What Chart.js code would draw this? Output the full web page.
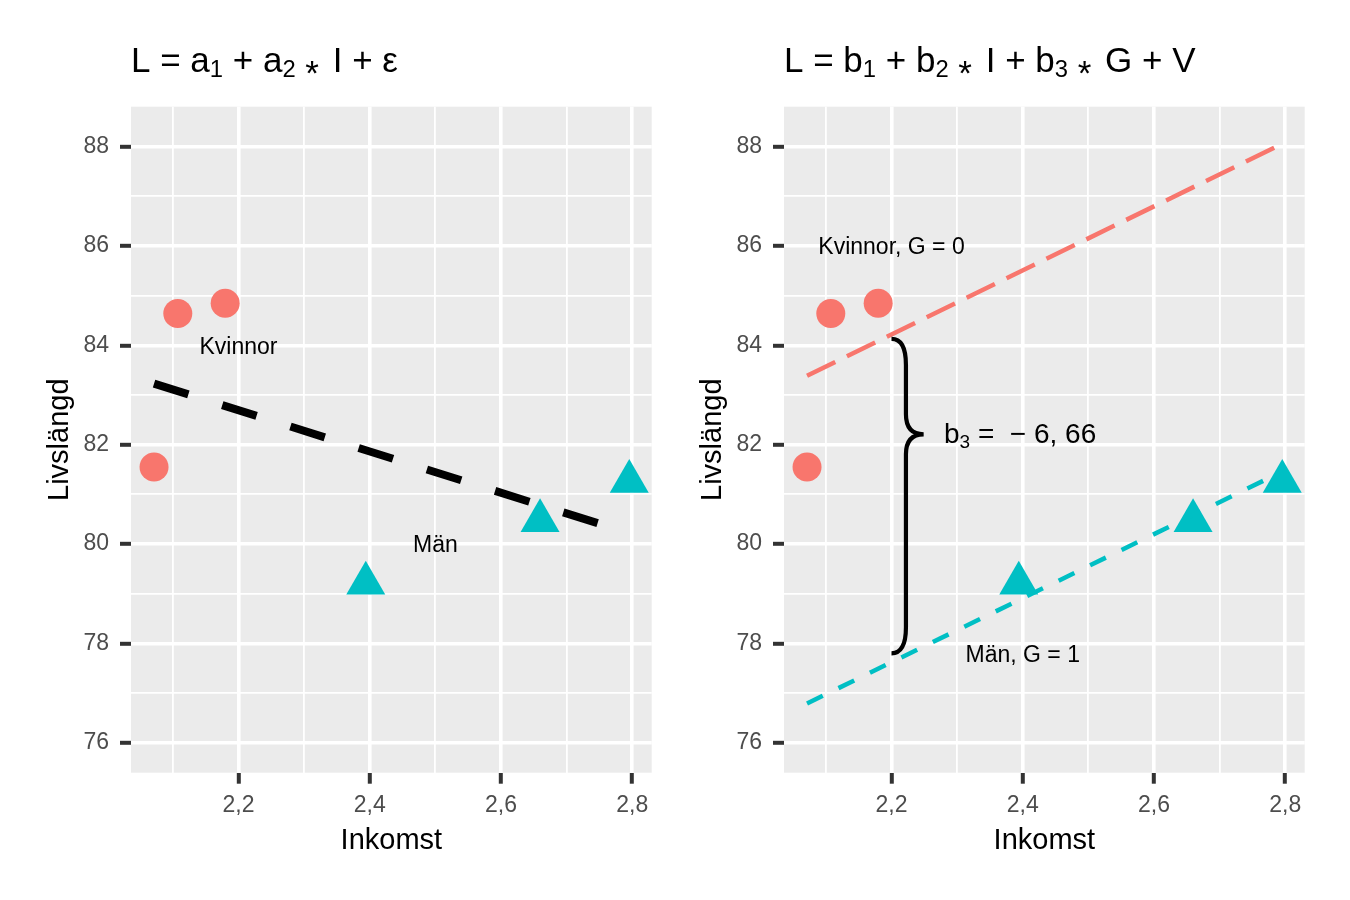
<!DOCTYPE html>
<html>
<head>
<meta charset="utf-8">
<script src="https://cdn.jsdelivr.net/npm/chart.js@4.4.1/dist/chart.umd.min.js"></script>
<style>
  html, body { margin: 0; padding: 0; background: #fff; }
  #wrap { position: relative; width: 1350px; height: 900px; }
  .panel { position: absolute; top: 0; width: 675px; height: 900px; }
  #left { left: 0; }
  #right { left: 653px; }
</style>
</head>
<body>
<div id="wrap">
  <div class="panel" id="left"><canvas id="chartLeft" width="675" height="900"></canvas></div>
  <div class="panel" id="right"><canvas id="chartRight" width="675" height="900"></canvas></div>
</div>
<script>
// axis ticks (major get labels, minor only grid lines)
const xMajor = [2.2, 2.4, 2.6, 2.8];
const xMinor = [2.1, 2.3, 2.5, 2.7];
const yMajor = [76, 78, 80, 82, 84, 86, 88];
const yMinor = [77, 79, 81, 83, 85, 87];
const xMin = 2.0362, xMax = 2.8296;
const yMin = 75.396, yMax = 88.806;

// observations
const kvinnorX = [2.0713, 2.1075, 2.1797];
const kvinnorY = [81.55, 84.64, 84.85];
const manX = [2.3939, 2.6595, 2.7954];
const manY = [79.21, 80.47, 81.26];

// fitted lines (end points)
const fitX = [2.0713, 2.7954];
const pooledFitY = [83.23, 80.22];
const kvinnorFitY = [83.39, 88.06];
const manFitY = [76.79, 81.46];

// text annotations
const leftLabels = ['Kvinnor', 'Män'];
const leftLabelX = [2.2, 2.5];
const leftLabelY = [84, 80];
const rightLabels = ['Kvinnor, G = 0', 'Män, G = 1'];
const rightLabelX = [2.2, 2.4];
const rightLabelY = [86, 77.8];

// brace between the two lines: top, tip, bottom
const braceX = [2.2, 2.222, 2.249];
const braceY = [84.13, 82.21, 77.80];
const b3LabelX = 2.28, b3LabelY = 82.23;

const FONT = '"Liberation Sans", Arial, sans-serif';
const RED = '#F8766D';
const CYAN = '#00BFC4';

function pts(xs, ys) {
    return xs.map((x, i) => ({ x: x, y: ys[i] }));
}

function isMajor(list, c) {
    return c.tick && list.includes(c.tick.value);
}

function gridOpts(majors) {
    return {
        color: '#ffffff',
        lineWidth: c => isMajor(majors, c) ? 3.6 : 1.8,
        tickColor: c => isMajor(majors, c) ? '#333333' : 'rgba(0,0,0,0)',
        tickWidth: 4,
        tickLength: 11
    };
}

function makeScales() {
    return {
        x: {
            type: 'linear', min: xMin, max: xMax,
            afterBuildTicks: s => {
                s.ticks = xMinor.concat(xMajor).sort((a, b) => a - b).map(v => ({ value: v }));
            },
            afterFit: s => { s.height = 900 - 772.7; },
            grid: gridOpts(xMajor),
            border: { display: false },
            ticks: {
                autoSkip: false, maxRotation: 0, minRotation: 0, padding: 8,
                color: '#4D4D4D', font: { family: FONT, size: 23 },
                callback: v => xMajor.includes(v) ? String(v).replace('.', ',') : ''
            }
        },
        y: {
            type: 'linear', min: yMin, max: yMax,
            afterBuildTicks: s => {
                s.ticks = yMinor.concat(yMajor).sort((a, b) => a - b).map(v => ({ value: v }));
            },
            afterFit: s => { s.width = 131; },
            grid: gridOpts(yMajor),
            border: { display: false },
            ticks: {
                autoSkip: false, padding: 11,
                color: '#4D4D4D', font: { family: FONT, size: 23 },
                callback: v => yMajor.includes(v) ? String(v) : ''
            }
        }
    };
}

// draws text pieces one after another, with subscripts and a lowered star
function drawRich(ctx, x, y, parts, size) {
    parts.forEach(p => {
        const fs = p.sub ? size * 0.68 : size;
        ctx.font = fs + 'px ' + FONT;
        const dy = p.sub ? size * 0.15 : (p.dy || 0);
        ctx.fillText(p.t, x, y + dy);
        x += ctx.measureText(p.t).width + (p.dx || 0);
    });
}

function decorPlugin(panel) {
    return {
        id: 'decor',
        beforeDraw(chart) {
            const a = chart.chartArea;
            const ctx = chart.ctx;
            ctx.save();
            ctx.fillStyle = '#EBEBEB';
            ctx.fillRect(a.left, a.top, a.right - a.left, a.bottom - a.top);
            ctx.restore();
        },
        afterDraw(chart) {
            const a = chart.chartArea;
            const ctx = chart.ctx;
            const sx = chart.scales.x, sy = chart.scales.y;
            ctx.save();
            ctx.fillStyle = '#000';
            ctx.textBaseline = 'alphabetic';

            // title
            ctx.textAlign = 'left';
            drawRich(ctx, a.left, 71.7, panel.title, 35);

            // axis titles
            ctx.textAlign = 'center';
            ctx.font = '29px ' + FONT;
            ctx.fillText('Inkomst', (a.left + a.right) / 2, 849);
            ctx.save();
            ctx.translate(68.3, (a.top + a.bottom) / 2);
            ctx.rotate(-Math.PI / 2);
            ctx.fillText('Livslängd', 0, 0);
            ctx.restore();

            // point labels
            ctx.font = '23px ' + FONT;
            panel.labels.forEach((t, i) => {
                ctx.fillText(t, sx.getPixelForValue(panel.labelX[i]),
                    sy.getPixelForValue(panel.labelY[i]) + 23 * 0.358);
            });

            if (panel.brace) {
                const xl = sx.getPixelForValue(braceX[0]);
                const xm = sx.getPixelForValue(braceX[1]);
                const xt = sx.getPixelForValue(braceX[2]);
                const yt = sy.getPixelForValue(braceY[0]);
                const yc = sy.getPixelForValue(braceY[1]);
                const yb = sy.getPixelForValue(braceY[2]);
                ctx.beginPath();
                ctx.moveTo(xl, yt);
                ctx.quadraticCurveTo(xm, yt, xm, yt + 26);
                ctx.lineTo(xm, yc - 20);
                ctx.quadraticCurveTo(xm, yc, xt, yc);
                ctx.quadraticCurveTo(xm, yc, xm, yc + 20);
                ctx.lineTo(xm, yb - 26);
                ctx.quadraticCurveTo(xm, yb, xl, yb);
                ctx.lineWidth = 4.2;
                ctx.strokeStyle = '#000';
                ctx.stroke();

                ctx.textAlign = 'left';
                drawRich(ctx, sx.getPixelForValue(b3LabelX),
                    sy.getPixelForValue(b3LabelY) + 28 * 0.358,
                    [{ t: 'b' }, { t: '3', sub: true }, { t: ' =  \u2212 6, 66' }], 28);
            }
            ctx.restore();
        }
    };
}

function lineSet(ys, color, width, dash) {
    return {
        data: pts(fitX, ys), showLine: true, fill: false,
        borderColor: color, borderWidth: width, borderDash: dash,
        pointRadius: 0, pointHoverRadius: 0, order: 0
    };
}

function pointSets() {
    return [
        {
            data: pts(kvinnorX, kvinnorY), pointStyle: 'circle',
            pointRadius: 14.5, pointHoverRadius: 14.5,
            pointBackgroundColor: RED, pointBorderWidth: 0, order: 1
        },
        {
            data: pts(manX, manY), pointStyle: 'triangle',
            pointRadius: 22.5, pointHoverRadius: 22.5,
            pointBackgroundColor: CYAN, pointBorderWidth: 0, order: 1
        }
    ];
}

function panelConfig(datasets, panel) {
    return {
        type: 'scatter',
        data: { datasets: datasets },
        options: {
            responsive: false,
            animation: false,
            layout: { padding: { top: 106.7, right: 23.3, bottom: 0, left: 0 } },
            plugins: { legend: { display: false }, tooltip: { enabled: false } },
            scales: makeScales()
        },
        plugins: [decorPlugin(panel)]
    };
}

const star = { t: '*', dy: 13, dx: 4 };

new Chart(document.getElementById('chartLeft'), panelConfig(
    [lineSet(pooledFitY, '#000000', 8, [36, 35.5])].concat(pointSets()),
    {
        title: [{ t: 'L = a' }, { t: '1', sub: true }, { t: ' + a' }, { t: '2', sub: true },
                { t: ' ' }, star, { t: ' I + \u03b5' }],
        labels: leftLabels, labelX: leftLabelX, labelY: leftLabelY, brace: false
    }
));

new Chart(document.getElementById('chartRight'), panelConfig(
    [lineSet(kvinnorFitY, RED, 4.5, [31.4, 13]), lineSet(manFitY, CYAN, 4.5, [17.5, 17.5])].concat(pointSets()),
    {
        title: [{ t: 'L = b' }, { t: '1', sub: true }, { t: ' + b' }, { t: '2', sub: true },
                { t: ' ' }, star, { t: ' I + b' }, { t: '3', sub: true },
                { t: ' ' }, star, { t: ' G + V' }],
        labels: rightLabels, labelX: rightLabelX, labelY: rightLabelY, brace: true
    }
));
</script>
</body>
</html>
